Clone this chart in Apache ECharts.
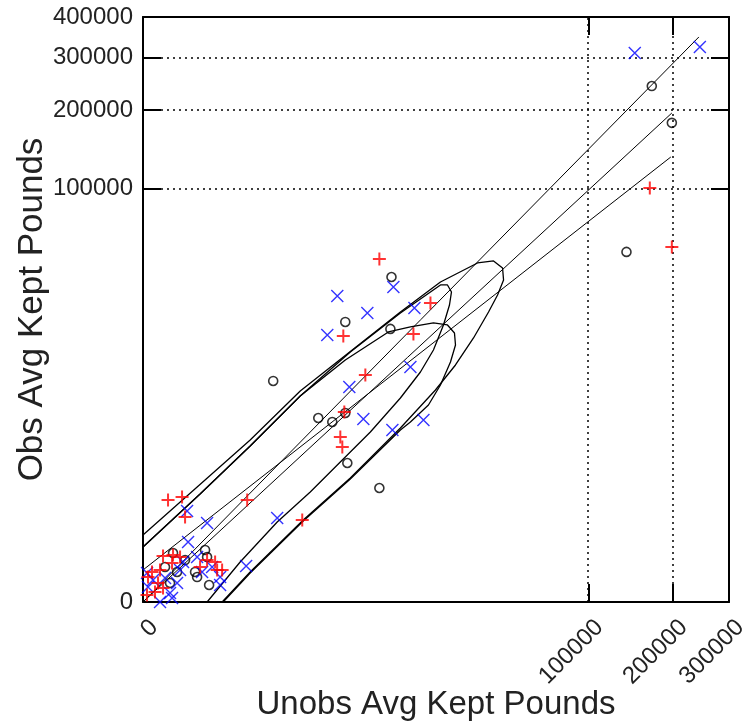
<!DOCTYPE html>
<html>
<head>
<meta charset="utf-8">
<script src="https://cdn.jsdelivr.net/npm/echarts@6/dist/echarts.min.js"></script>
<style>
  html, body { margin: 0; padding: 0; background: #fff; }
  #chart { width: 745px; height: 726px; }
</style>
</head>
<body>
<div id="chart"></div>
<script>
// tick values (pounds); the axes are drawn on a fourth-root scale
const xTicks = [0, 100000, 200000, 300000];
const yTicks = [0, 100000, 200000, 300000, 400000];
const xGridLines = [100000, 200000];
const yGridLines = [100000, 200000, 300000];

// black circles: [unobs, obs] pounds
const circlePts = [
  [170500, 242000], [199000, 180000], [139000, 51300], [9700, 38100], [4260, 21000],
  [9530, 19000], [731, 8150], [2401, 3915], [3266, 3587], [4262, 4359], [4434, 1275],
  [7941, 577], [37.8, 25], [42.9, 14], [21.8, 1.33], [48.6, 0.285], [18.7, 2.77],
  [2.07, 19.7], [1.36, 0.445], [3.42, 2.77], [0.6, 5.13], [7.97, 10.6]
];

// red plus
const plusPts = [
  [167850, 100370], [199000, 54240], [7941, 47300], [17370, 27300], [4096, 17110],
  [13605, 17620], [6218, 9070], [4178, 4452], [3856, 2532], [4015, 1972], [1636, 154],
  [300, 370], [1, 370], [5.92, 415], [7.97, 178], [0.0168, 2.77], [0.0016, 1.33],
  [0.214, 3.58], [2.07, 16.7], [4.8, 14], [1.81, 7.9], [0.13, 0.445], [0.41, 0.131],
  [0.053, 0.034], [0.00066, 0.0082], [27, 5.13], [68.8, 8.75], [76.8, 3.58],
  [99.7, 3.58], [42.9, 10.6], [0.41, 15.3]
];

// blue cross
const crossPts = [
  [148790, 310360], [244640, 324100], [3626, 29960], [6445, 23830], [10000, 33640],
  [13808, 25530], [2934, 17370], [4610, 7299], [13010, 10420], [5997, 3832],
  [9841, 2990], [15735, 3749], [825, 170], [9.6, 234], [42.9, 133], [10.5, 44.3],
  [288, 5.74], [90, 0.285], [0.00066, 2.42], [0.0256, 0.8], [0.6, 1.13],
  [1.36, 0.0224], [3.42, 0.445], [4.8, 3.58], [1.81, 0.0009], [0.214, 0],
  [0.0016, 0.173], [6.55, 8.75], [21.8, 14], [31, 2.77], [58, 5.13], [90, 1.33]
];

// fitted lines, start and end (pounds)
const fitLines = [
  [[0, 0], [242900, 348100]],
  [[0, 0], [199000, 195300]],
  [[0, 3.6], [197460, 133940]]
];

// confidence regions, outlines traced in pounds
const loopA = [
  [0, 68.8], [335.6, 2353], [1555, 6772], [11168, 24164], [19918, 35822],
  [31858, 45120], [38416, 46194], [42520, 42510], [42998, 36726], [40203, 30349],
  [36267, 24164], [30360, 16595], [24259, 10779], [18611, 6901], [11168, 3132],
  [4700, 807.7], [1678, 154.5], [335.6, 2.767], [99.7, 0]
];
const loopB = [
  [0, 31.26], [27, 464.8], [335.6, 2023], [1555, 6152], [4700, 13346],
  [11168, 23833], [17369, 31553], [19918, 34500], [21865, 34500], [23037, 31553],
  [22445, 26582], [20736, 20113], [18106, 13778], [15072, 9560], [11168, 5917],
  [6798, 2854], [3855, 1312], [1991, 500.2], [825.4, 139.9], [226.6, 8.746], [42.95, 0]
];
const loopC = [
  [0, 31.26], [27, 464.8], [335.6, 2023], [1555, 6152], [4262, 11718],
  [9224, 18155], [13010, 19539], [18106, 20701], [21865, 20113], [23948, 17889],
  [24259, 14903], [22740, 11334], [19918, 7576], [16890, 5146], [13010, 3586],
  [11168, 2990], [4700, 781.9], [1678, 147.1], [335.6, 2.416], [104.9, 0]
];

// fourth-root transform used by both axes
const root = v => Math.sign(v) * Math.pow(Math.abs(v), 0.25);
const toRoot = pts => pts.map(p => [root(p[0]), root(p[1])]);
const tickText = ticks => v => {
  const i = ticks.findIndex(t => Math.abs(root(t) - v) < 1e-6);
  return i < 0 ? '' : String(ticks[i]);
};

const FONT = 'Liberation Sans, Arial, sans-serif';
const black = '#000';
const textColor = '#222';

const baseAxis = {
  type: 'value',
  splitLine: { show: false },
  nameMoveOverlap: false,
  axisLine: { show: true, onZero: false, lineStyle: { color: black, width: 2 } }
};

const xAxisDef = (pos, withLabels) => Object.assign({}, baseAxis, {
  position: pos,
  min: 0,
  max: root(300000),
  axisTick: { show: true, inside: true, length: 18, customValues: xTicks.map(root),
              lineStyle: { color: black, width: 2 } },
  axisLabel: withLabels ? {
    customValues: xTicks.map(root), formatter: tickText(xTicks),
    rotate: 45, margin: 33, padding: [0, -16, 0, 0],
    fontSize: 24, fontFamily: FONT, color: textColor
  } : { show: false },
  name: withLabels ? 'Unobs Avg Kept Pounds' : '',
  nameLocation: 'middle',
  nameGap: 86,
  nameTextStyle: { fontSize: 33, fontFamily: FONT, color: textColor }
});

const yAxisDef = (pos, withLabels) => Object.assign({}, baseAxis, {
  position: pos,
  min: 0,
  max: root(400000),
  axisTick: { show: true, inside: true, length: 18, customValues: yTicks.map(root),
              lineStyle: { color: black, width: 2 } },
  axisLabel: withLabels ? {
    customValues: yTicks.map(root), formatter: tickText(yTicks),
    margin: 10, fontSize: 24, fontFamily: FONT, color: textColor
  } : { show: false },
  name: withLabels ? 'Obs Avg Kept Pounds' : '',
  nameLocation: 'middle',
  nameGap: 93,
  nameTextStyle: { fontSize: 35, fontFamily: FONT, color: textColor }
});

const series = [];

// dotted grid lines
series.push({
  type: 'line',
  data: [],
  silent: true,
  markLine: {
    silent: true,
    symbol: 'none',
    label: { show: false },
    lineStyle: { color: black, width: 1.5, type: [2, 4] },
    data: xGridLines.map(v => ({ xAxis: root(v) })).concat(yGridLines.map(v => ({ yAxis: root(v) })))
  }
});

[loopA, loopB, loopC].forEach(l => {
  series.push({
    type: 'line',
    data: toRoot(l),
    symbol: 'none',
    silent: true,
    lineStyle: { color: black, width: 1.3 },
    z: 2
  });
});

fitLines.forEach(l => {
  series.push({
    type: 'line',
    data: toRoot(l),
    symbol: 'none',
    silent: true,
    lineStyle: { color: black, width: 1 },
    z: 3
  });
});

series.push({
  type: 'scatter',
  data: toRoot(circlePts),
  symbol: 'circle',
  symbolSize: 9,
  itemStyle: { color: 'rgba(0,0,0,0)', borderColor: black, borderWidth: 1.6 },
  z: 4
});
series.push({
  type: 'scatter',
  data: toRoot(crossPts),
  symbol: 'path://M0,0L10,10M10,0L0,10',
  symbolSize: 12,
  itemStyle: { color: 'rgba(0,0,0,0)', borderColor: '#0000ff', borderWidth: 1.4 },
  z: 5
});
series.push({
  type: 'scatter',
  data: toRoot(plusPts),
  symbol: 'path://M5,0L5,10M0,5L10,5',
  symbolSize: 13,
  itemStyle: { color: 'rgba(0,0,0,0)', borderColor: '#ff0000', borderWidth: 2 },
  z: 6
});

const chart = echarts.init(document.getElementById('chart'));
chart.setOption({
  animation: false,
  backgroundColor: '#fff',
  grid: { left: 143, top: 17, right: 16, bottom: 124, containLabel: false, outerBoundsMode: 'none' },
  xAxis: [xAxisDef('bottom', true), xAxisDef('top', false)],
  yAxis: [yAxisDef('left', true), yAxisDef('right', false)],
  series: series
});
</script>
</body>
</html>
